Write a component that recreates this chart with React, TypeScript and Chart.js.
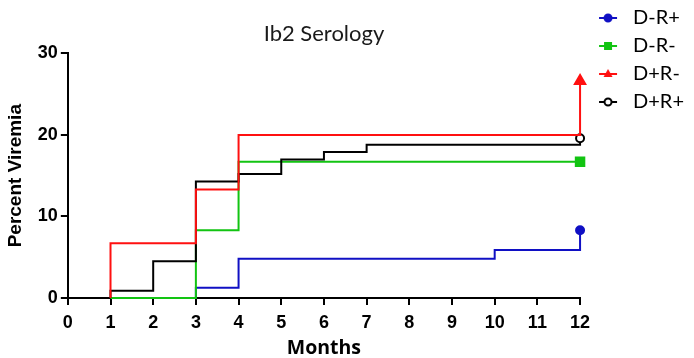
import React, { useEffect, useRef } from "react";
import { Chart, registerables } from "chart.js";

Chart.register(...registerables);

// ---- data ----
const seriesNames = ["D-R+", "D-R-", "D+R-", "D+R+"];
const seriesColors = ["#1010c4", "#12c412", "#ff1010", "#000000"];

const blueMonths = [3, 3, 4, 10, 12, 12];
const blueValues = [0, 1.25, 4.8, 5.9, 5.9, 8.3];

const greenMonths = [1, 3, 4, 12];
const greenValues = [0, 8.3, 16.7, 16.7];

const redMonths = [1, 1, 3, 4, 12, 12];
const redValues = [0, 6.7, 13.3, 20, 20, 26.6];

const blackMonths = [1, 1, 2, 3, 4, 5, 6, 7, 12, 12];
const blackValues = [0, 0.9, 4.5, 14.3, 15.2, 17, 17.9, 18.8, 18.8, 19.6];

const xTicks = [0, 1, 2, 3, 4, 5, 6, 7, 8, 9, 10, 11, 12];
const yTicks = [0, 10, 20, 30];

const titleText = "Ib2 Serology";
const xTitle = "Months";
const yTitle = "Percent Viremia";

const markerStyles = ["circle", "rect", "triangle", "circle"];
const markerFills = ["#1010c4", "#12c412", "#ff1010", "#ffffff"];
const markerRadii = [4, 6, 6, 4];

function pts(xs: number[], ys: number[]) {
  return xs.map((x, i) => ({ x, y: ys[i] }));
}

const LEG_W = 35;

function legendImage(i: number): HTMLCanvasElement {
  const c = document.createElement("canvas");
  c.width = LEG_W;
  c.height = 14;
  const g = c.getContext("2d")!;
  const col = seriesColors[i];
  g.strokeStyle = col;
  g.lineWidth = 2;
  g.beginPath();
  g.moveTo(11, 7);
  g.lineTo(29, 7);
  g.stroke();
  const cx = 20, cy = 7;
  g.fillStyle = markerFills[i];
  if (markerStyles[i] === "circle") {
    g.beginPath();
    g.arc(cx, cy, 3.5, 0, Math.PI * 2);
    g.fill();
    g.stroke();
  } else if (markerStyles[i] === "rect") {
    g.fillRect(cx - 4, cy - 4, 8, 8);
  } else {
    g.beginPath();
    g.moveTo(cx, cy - 5);
    g.lineTo(cx + 4.5, cy + 3);
    g.lineTo(cx - 4.5, cy + 3);
    g.closePath();
    g.fill();
  }
  return c;
}

export default function App() {
  const ref = useRef<HTMLCanvasElement | null>(null);
  useEffect(() => {
    const all = [
      [blueMonths, blueValues],
      [greenMonths, greenValues],
      [redMonths, redValues],
      [blackMonths, blackValues],
    ];
    const drawOrder = [3, 2, 0, 1];
    const datasets = all.map(([xs, ys], i) => {
      const n = xs.length;
      return {
        label: seriesNames[i],
        data: pts(xs, ys),
        borderColor: seriesColors[i],
        backgroundColor: markerFills[i],
        borderWidth: 2,
        stepped: "before" as const,
        fill: false,
        clip: false as any,
        order: drawOrder[i],
        pointStyle: markerStyles[i] as any,
        pointRadius: xs.map((_, k) => (k === n - 1 ? markerRadii[i] : 0)),
        pointBorderWidth: 2,
        pointBorderColor: seriesColors[i],
        pointBackgroundColor: markerFills[i],
      };
    });
    const images = seriesNames.map((_, i) => legendImage(i));
    const tickFont = { family: "'Liberation Sans', Arial", size: 18, weight: "bold" as const };
    const chart = new Chart(ref.current!, {
      type: "line",
      data: { datasets },
      options: {
        animation: false,
        responsive: true,
        maintainAspectRatio: false,
        layout: { padding: { left: 4, bottom: -2, top: 0, right: 0 } },
        plugins: {
          tooltip: { enabled: false },
          title: {
            display: true,
            text: titleText,
            fullSize: false,
            color: "#1a1a1a",
            font: { family: "Lato, 'Open Sans', sans-serif", size: 22, weight: "normal" },
            padding: { top: 21, bottom: 6 },
          },
          legend: {
            display: true,
            position: "right",
            align: "start",
            fullSize: true,
            labels: {
              usePointStyle: true,
              pointStyleWidth: LEG_W,
              padding: 8,
              color: "#000",
              font: { family: "Lato, 'Open Sans', sans-serif", size: 20 },
              generateLabels: () =>
                seriesNames.map((name, i) => ({
                  text: name,
                  pointStyle: images[i] as any,
                  fillStyle: seriesColors[i],
                  strokeStyle: seriesColors[i],
                  lineWidth: 0,
                  hidden: false,
                  datasetIndex: i,
                })),
            },
          },
        },
        scales: {
          x: {
            type: "linear",
            min: 0,
            max: 12,
            afterBuildTicks: (s: any) => {
              s.ticks = xTicks.map((v) => ({ value: v }));
            },
            grid: { display: true, drawOnChartArea: false, drawTicks: true, tickLength: 7, color: "#000", lineWidth: 2 },
            border: { display: true, color: "#000", width: 2 },
            ticks: { color: "#000", font: tickFont, padding: 7, maxRotation: 0, autoSkip: false },
            title: {
              display: true,
              text: xTitle,
              color: "#000",
              font: { family: "'Open Sans', Lato, sans-serif", size: 19.5, weight: "bold" },
              padding: { top: -4, bottom: 0 },
            },
          },
          y: {
            type: "linear",
            min: 0,
            max: 30,
            afterBuildTicks: (s: any) => {
              s.ticks = yTicks.map((v) => ({ value: v }));
            },
            grid: { display: true, drawOnChartArea: false, drawTicks: true, tickLength: 7, color: "#000", lineWidth: 2 },
            border: { display: true, color: "#000", width: 2 },
            ticks: { color: "#000", font: tickFont, padding: 3 },
            title: {
              display: true,
              text: yTitle,
              color: "#000",
              font: { family: "'Liberation Sans', Arial", size: 19, weight: "bold" },
              padding: { top: 0, bottom: 8 },
            },
          },
        },
      },
    });
    return () => chart.destroy();
  }, []);
  return (
    <div style={{ position: "absolute", left: 0, top: 0, width: 694, height: 358, background: "#fff" }}>
      <canvas ref={ref} />
    </div>
  );
}
